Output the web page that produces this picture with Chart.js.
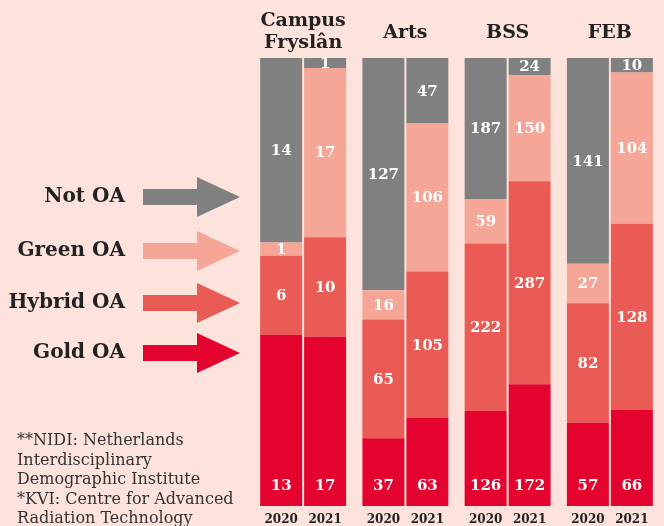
<!DOCTYPE html>
<html>
<head>
<meta charset="utf-8">
<script src="https://cdn.jsdelivr.net/npm/chart.js@4/dist/chart.umd.min.js"></script>
<style>
  html, body { margin: 0; padding: 0; background: #fde3dc; }
  #wrap { width: 664px; height: 526px; position: relative; }
</style>
</head>
<body>
<div id="wrap"><canvas id="oaChart" width="664" height="526"></canvas></div>
<script>
const faculties = [['Campus', 'Fryslân'], 'Arts', 'BSS', 'FEB'];
const years     = ['2020', '2021'];
const typeNames = ['Gold OA', 'Hybrid OA', 'Green OA', 'Not OA'];
const typeColors = ['#e4032e', '#eb5b55', '#f5a697', '#808080'];

const gold2020   = [13, 37, 126, 57];
const gold2021   = [17, 63, 172, 66];
const hybrid2020 = [6, 65, 222, 82];
const hybrid2021 = [10, 105, 287, 128];
const green2020  = [1, 16, 59, 27];
const green2021  = [17, 106, 150, 104];
const notoa2020  = [14, 127, 187, 141];
const notoa2021  = [1, 47, 24, 10];

const footnote = [
  '**NIDI: Netherlands',
  'Interdisciplinary',
  'Demographic Institute',
  '*KVI: Centre for Advanced',
  'Radiation Technology'
];

const FONT = '"DejaVu Serif", "Liberation Serif", serif';

const byYear = {
  '2020': [gold2020, hybrid2020, green2020, notoa2020],
  '2021': [gold2021, hybrid2021, green2021, notoa2021]
};

function totals(year) {
  const rows = byYear[year];
  return rows[0].map((_, i) => rows.reduce((s, r) => s + r[i], 0));
}

const datasets = [];
years.forEach(year => {
  const tot = totals(year);
  byYear[year].forEach((row, t) => {
    datasets.push({
      label: typeNames[t] + ' ' + year,
      data: row.map((v, i) => v / tot[i] * 100),
      raw: row,
      type_: t,
      stack: year,
      backgroundColor: typeColors[t],
      borderWidth: 0,
      categoryPercentage: 0.86,
      barPercentage: 0.955
    });
  });
});

const textPlugin = {
  id: 'oaText',
  afterDatasetsDraw(chart) {
    const c = chart.ctx;
    const area = chart.chartArea;
    const xs = chart.scales.x;

    // values inside segments (gold sits near the bottom)
    c.save();
    c.fillStyle = '#ffffff';
    c.font = 'bold 15px ' + FONT;
    c.textAlign = 'center';
    c.textBaseline = 'middle';
    chart.data.datasets.forEach((ds, di) => {
      chart.getDatasetMeta(di).data.forEach((bar, i) => {
        const y = ds.type_ === 0 ? bar.base - 20 : (bar.y + bar.base) / 2 + 1;
        c.fillText(String(ds.raw[i]), bar.x, y);
      });
    });
    c.restore();

    // faculty titles
    c.save();
    c.fillStyle = '#222222';
    c.font = 'bold 19px ' + FONT;
    c.textAlign = 'center';
    c.textBaseline = 'middle';
    faculties.forEach((f, i) => {
      const x = xs.getPixelForValue(i);
      if (Array.isArray(f)) {
        c.fillText(f[0], x, 21);
        c.fillText(f[1], x, 43);
      } else {
        c.fillText(f, x, 33);
      }
    });

    // year labels under bars
    c.font = 'bold 12px ' + FONT;
    [0, 4].forEach((di, k) => {
      chart.getDatasetMeta(di).data.forEach(bar => {
        c.fillText(years[k], bar.x, area.bottom + 14);
      });
    });
    c.restore();

    // legend with arrows
    c.save();
    const legendY = [197, 251, 303, 353];
    const order = [3, 2, 1, 0];
    order.forEach((t, k) => {
      const y = legendY[k];
      c.fillStyle = '#222222';
      c.font = 'bold 20px ' + FONT;
      c.textAlign = 'right';
      c.textBaseline = 'middle';
      c.fillText(typeNames[t], 125, y);
      c.fillStyle = typeColors[t];
      c.beginPath();
      c.moveTo(143, y - 8);
      c.lineTo(197, y - 8);
      c.lineTo(197, y - 20);
      c.lineTo(240, y);
      c.lineTo(197, y + 20);
      c.lineTo(197, y + 8);
      c.lineTo(143, y + 8);
      c.closePath();
      c.fill();
    });

    // footnote
    c.fillStyle = '#333333';
    c.font = '16px ' + FONT;
    c.textAlign = 'left';
    c.textBaseline = 'middle';
    footnote.forEach((line, i) => {
      c.fillText(line, 17, 441 + i * 19.5);
    });
    c.restore();
  }
};

new Chart(document.getElementById('oaChart'), {
  type: 'bar',
  data: { labels: faculties, datasets: datasets },
  options: {
    responsive: false,
    animation: false,
    layout: { padding: { left: 252, right: 3, top: 58, bottom: 20 } },
    plugins: { legend: { display: false }, tooltip: { enabled: false } },
    scales: {
      x: { stacked: true, display: false },
      y: { stacked: true, display: false, min: 0, max: 100 }
    }
  },
  plugins: [textPlugin]
});
</script>
</body>
</html>
